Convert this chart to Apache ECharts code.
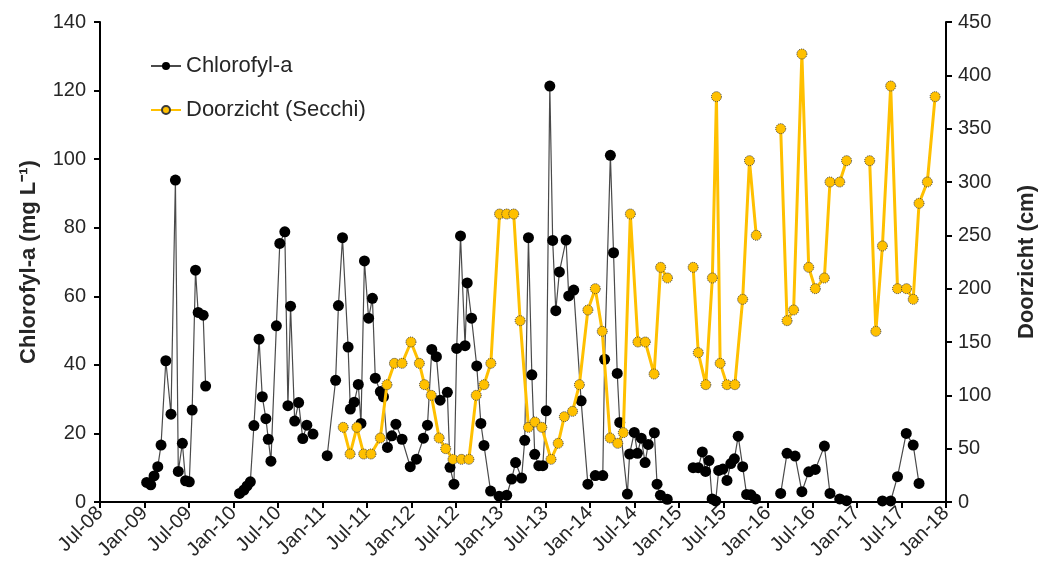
<!DOCTYPE html>
<html>
<head>
<meta charset="utf-8">
<script src="https://cdn.jsdelivr.net/npm/echarts@6/dist/echarts.min.js"></script>
<style>
  html, body { margin: 0; padding: 0; background: #fff; }
  #chart { width: 1046px; height: 576px; }
</style>
</head>
<body>
<div id="chart"></div>
<script>
// Sampling dates and measurements; a null entry marks a break between sampling seasons.
const chlDates = [
  '2009-01-10','2009-01-27','2009-02-09','2009-02-23','2009-03-08','2009-03-28','2009-04-18','2009-05-06',
  '2009-05-18','2009-06-04','2009-06-17','2009-07-02','2009-07-14','2009-07-28','2009-08-08','2009-08-29',
  '2009-09-08', null,
  '2010-01-26','2010-02-12','2010-02-24','2010-03-09','2010-03-24','2010-04-14','2010-04-27','2010-05-12',
  '2010-05-22','2010-06-02','2010-06-24','2010-07-08','2010-07-29','2010-08-11','2010-08-22','2010-09-08',
  '2010-09-24','2010-10-11','2010-10-28','2010-11-22', null,
  '2011-01-20','2011-02-22','2011-03-05','2011-03-22','2011-04-14','2011-04-23','2011-05-09','2011-05-26',
  '2011-06-06','2011-06-20','2011-07-07','2011-07-23','2011-08-04','2011-08-25','2011-09-07','2011-09-23',
  '2011-10-11','2011-10-28','2011-11-22','2011-12-26','2012-01-21','2012-02-18','2012-03-05','2012-03-23',
  '2012-04-11','2012-04-26','2012-05-26','2012-06-06','2012-06-22','2012-07-03','2012-07-19','2012-08-07',
  '2012-08-16','2012-09-03','2012-09-24','2012-10-11','2012-10-24','2012-11-20','2012-12-25','2013-01-26',
  '2013-02-14','2013-03-01','2013-03-26','2013-04-08','2013-04-23','2013-05-07','2013-05-19','2013-06-05',
  '2013-06-21','2013-07-05','2013-07-20','2013-08-01','2013-08-14','2013-08-29','2013-09-25','2013-10-06',
  '2013-10-27','2013-11-26','2013-12-24','2014-01-24','2014-02-22','2014-03-01','2014-03-25','2014-04-07',
  '2014-04-22','2014-05-02','2014-06-03','2014-06-12','2014-07-01','2014-07-14','2014-07-30','2014-08-15',
  '2014-08-28','2014-09-22','2014-10-03','2014-10-17','2014-11-14', null,
  '2015-02-27','2015-03-20','2015-04-06','2015-04-19','2015-05-03','2015-05-16','2015-05-31','2015-06-12',
  '2015-06-29','2015-07-16','2015-08-01','2015-08-16','2015-09-01','2015-09-19','2015-10-05','2015-10-23',
  '2015-11-11', null,
  '2016-02-22','2016-03-19','2016-04-21','2016-05-19','2016-06-16','2016-07-13','2016-08-20','2016-09-12',
  '2016-10-22','2016-11-19', null,
  '2017-04-14','2017-05-18','2017-06-15','2017-07-21','2017-08-19','2017-09-12'
];
const chlValues = [
  5.7, 5.0, 7.6, 10.3, 16.6, 41.2, 25.6, 93.9,
  8.9, 17.1, 6.2, 5.9, 26.8, 67.6, 55.3, 54.5,
  33.8, null,
  2.5, 3.5, 4.7, 5.9, 22.3, 47.5, 30.7, 24.3,
  18.3, 11.9, 51.4, 75.4, 78.8, 28.1, 57.1, 23.6,
  29.0, 18.5, 22.4, 19.8, null,
  13.5, 35.5, 57.3, 77.1, 45.2, 27.1, 29.1, 34.3,
  22.9, 70.3, 53.6, 59.4, 36.1, 32.2, 30.7, 15.9,
  19.3, 22.7, 18.3, 10.3, 12.5, 18.6, 22.4, 44.5,
  42.4, 29.7, 32.0, 10.1, 5.2, 44.8, 77.6, 45.6,
  63.9, 53.6, 39.7, 22.9, 16.5, 3.2, 1.7, 2.0,
  6.7, 11.5, 7.0, 18.0, 77.1, 37.1, 13.9, 10.6,
  10.6, 26.6, 121.3, 76.3, 55.8, 67.1, 76.4, 60.1,
  61.8, 29.5, 5.2, 7.7, 7.7, 41.6, 101.1, 72.7,
  37.5, 23.2, 2.3, 14.0, 20.3, 14.2, 18.6, 11.5,
  16.8, 20.2, 5.2, 2.0, 0.8, null,
  10.0, 10.0, 14.6, 8.9, 12.1, 0.9, 0.3, 9.2,
  9.6, 6.3, 11.2, 12.6, 19.2, 10.3, 2.2, 2.1,
  0.9, null,
  2.5, 14.2, 13.4, 3.0, 8.8, 9.5, 16.3, 2.5,
  0.9, 0.4, null,
  0.3, 0.3, 7.4, 20.0, 16.6, 5.4
];

const secchiDates = [
  '2011-03-25','2011-04-22','2011-05-20','2011-06-17','2011-07-17','2011-08-25','2011-09-21','2011-10-22',
  '2011-11-22','2011-12-29','2012-02-02','2012-02-22','2012-03-21','2012-04-22','2012-05-19','2012-06-18',
  '2012-07-23','2012-08-23','2012-09-22','2012-10-24','2012-11-21','2012-12-27','2013-01-26','2013-02-22',
  '2013-03-20','2013-04-23','2013-05-20','2013-06-17','2013-07-25','2013-08-24','2013-09-18','2013-10-22',
  '2013-11-19','2013-12-24','2014-01-24','2014-02-20','2014-03-24','2014-04-24','2014-05-17','2014-06-15',
  '2014-07-16','2014-08-16','2014-09-21','2014-10-18','2014-11-15', null,
  '2015-02-27','2015-03-20','2015-04-20','2015-05-17','2015-06-03','2015-06-18','2015-07-16','2015-08-18',
  '2015-09-19','2015-10-17','2015-11-14', null,
  '2016-02-22','2016-03-19','2016-04-15','2016-05-19','2016-06-16','2016-07-13','2016-08-20','2016-09-12',
  '2016-10-22','2016-11-19', null,
  '2017-02-21','2017-03-18','2017-04-14','2017-05-18','2017-06-15','2017-07-22','2017-08-19','2017-09-12',
  '2017-10-16','2017-11-17'
];
const secchiValues = [
  70, 45, 70, 45, 45, 60, 110, 130,
  130, 150, 130, 110, 100, 60, 50, 40,
  40, 40, 100, 110, 130, 270, 270, 270,
  170, 70, 75, 70, 40, 55, 80, 85,
  110, 180, 200, 160, 60, 55, 65, 270,
  150, 150, 120, 220, 210, null,
  220, 140, 110, 210, 380, 130, 110, 110,
  190, 320, 250, null,
  350, 170, 180, 420, 220, 200, 210, 300,
  300, 320, null,
  320, 160, 240, 390, 200, 200, 190, 280,
  300, 380
];

// Half-yearly tick labels along the date axis (months counted from July 2008).
const tickLabels = ['Jul-08','Jan-09','Jul-09','Jan-10','Jul-10','Jan-11','Jul-11','Jan-12','Jul-12','Jan-13',
                    'Jul-13','Jan-14','Jul-14','Jan-15','Jul-15','Jan-16','Jul-16','Jan-17','Jul-17','Jan-18'];

// Convert a date string to fractional months since 2008-07-01.
function monthIndex(d) {
  const [y, m, day] = d.split('-').map(Number);
  const dim = new Date(y, m, 0).getDate();
  return (y - 2008) * 12 + (m - 7) + (day - 1) / dim;
}
function toPairs(dates, values) {
  return dates.map((d, i) => d === null ? ['-', '-'] : [monthIndex(d), values[i]]);
}

const FONT = '"Liberation Sans", Arial, sans-serif';
const TEXT = '#262626';

const chart = echarts.init(document.getElementById('chart'), null, { renderer: 'canvas' });
chart.setOption({
  animation: false,
  backgroundColor: '#fff',
  textStyle: { fontFamily: FONT },
  grid: { left: 100, right: 98, top: 22, bottom: 74 },
  legend: {
    orient: 'vertical',
    left: 145,
    top: 50,
    itemWidth: 30,
    itemHeight: 10,
    itemGap: 22,
    textStyle: { fontFamily: FONT, fontSize: 22, color: TEXT, padding: [0, 0, 0, 0] },
    data: ['Chlorofyl-a', 'Doorzicht (Secchi)']
  },
  xAxis: {
    type: 'value',
    min: 0,
    max: 114,
    interval: 6,
    splitLine: { show: false },
    axisLine: { onZero: false, lineStyle: { color: '#000', width: 2 } },
    axisTick: { length: 6, lineStyle: { color: '#000', width: 2 } },
    axisLabel: {
      rotate: 45,
      margin: 8,
      fontSize: 20,
      color: TEXT,
      fontFamily: FONT,
      formatter: v => tickLabels[Math.round(v / 6)]
    }
  },
  yAxis: [
    {
      type: 'value',
      min: 0,
      max: 140,
      interval: 20,
      position: 'left',
      name: 'Chlorofyl-a (mg L⁻¹)',
      nameLocation: 'middle',
      nameRotate: 90,
      nameGap: 60,
      nameTextStyle: { fontSize: 22, fontWeight: 'bold', color: TEXT, fontFamily: FONT },
      splitLine: { show: false },
      axisLine: { show: true, lineStyle: { color: '#000', width: 2 } },
      axisTick: { show: true, length: 6, lineStyle: { color: '#000', width: 2 } },
      axisLabel: { fontSize: 20, color: TEXT, fontFamily: FONT, margin: 14 }
    },
    {
      type: 'value',
      min: 0,
      max: 450,
      interval: 50,
      position: 'right',
      name: 'Doorzicht (cm)',
      nameLocation: 'middle',
      nameRotate: 90,
      nameGap: 70,
      nameTextStyle: { fontSize: 22, fontWeight: 'bold', color: TEXT, fontFamily: FONT },
      splitLine: { show: false },
      axisLine: { show: true, lineStyle: { color: '#000', width: 2 } },
      axisTick: { show: true, length: 6, lineStyle: { color: '#000', width: 2 } },
      axisLabel: { fontSize: 20, color: TEXT, fontFamily: FONT, margin: 12 }
    }
  ],
  series: [
    {
      name: 'Chlorofyl-a',
      type: 'line',
      yAxisIndex: 0,
      data: toPairs(chlDates, chlValues),
      connectNulls: false,
      symbol: 'circle',
      symbolSize: 11,
      showAllSymbol: true,
      lineStyle: { color: '#4a4a4a', width: 1.2 },
      itemStyle: { color: '#000', borderColor: '#000', borderWidth: 0 },
      z: 2
    },
    {
      name: 'Doorzicht (Secchi)',
      type: 'line',
      yAxisIndex: 1,
      data: toPairs(secchiDates, secchiValues),
      connectNulls: false,
      symbol: 'circle',
      symbolSize: 10,
      showAllSymbol: true,
      lineStyle: { color: '#FFC000', width: 3 },
      itemStyle: { color: '#FFC000', borderColor: '#3a3a3a', borderWidth: 1, borderType: 'dotted' },
      z: 3
    }
  ]
});
</script>
</body>
</html>
